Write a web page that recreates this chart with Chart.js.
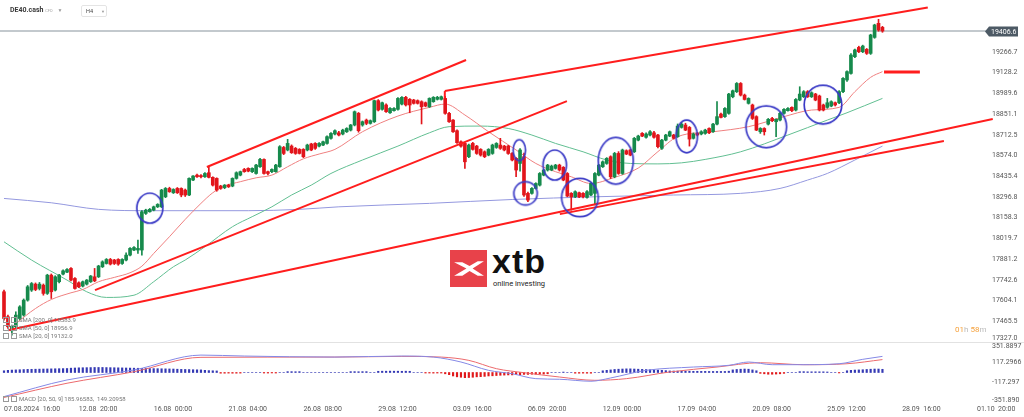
<!DOCTYPE html>
<html>
<head>
<meta charset="utf-8">
<script src="https://cdn.jsdelivr.net/npm/chart.js@4.4.1/dist/chart.umd.min.js"></script>
<style>
  body { margin: 0; background: #fff; font-family: Roboto, 'Liberation Sans', sans-serif; }
  #wrap { position: relative; width: 1024px; height: 417px; overflow: hidden; background: #fff; }
  canvas { position: absolute; left: 0; }
  .abs { position: absolute; white-space: nowrap; }
  .leg { font-size: 6px; color: #777; }
  .ico { display: inline-block; width: 4px; height: 4px; border: 1px solid #999; margin-right: 2px; vertical-align: middle; }
</style>
</head>
<body>
<div id="wrap">
  <!-- watermark -->
  <div class="abs" style="left:450px;top:250px;width:37px;height:37px;background:#e8424a">
    <svg width="37" height="37" viewBox="0 0 36 36">
      <path d="M4 12 L16 18 L4 25 L12 25 L19 20.5 L27 25 L33 25 L22 18 L33 11 L27 11 L19 15.5 L12 12 Z" fill="#fff"/>
    </svg>
  </div>
  <div class="abs" style="left:492px;top:242px;font-size:34px;font-weight:900;color:#111;letter-spacing:1px;font-family:'Liberation Sans',sans-serif">xtb</div>
  <div class="abs" style="left:493px;top:279px;font-size:7.5px;color:#222">online investing</div>

  <canvas id="mainChart" width="1024" height="342" style="top:0"></canvas>
  <canvas id="macdChart" width="1024" height="75" style="top:342px"></canvas>
  <div class="abs" style="left:0;top:342px;width:1024px;height:1px;background:#e2e2e2"></div>

  <!-- header -->
  <div class="abs" style="left:10px;top:6px;font-size:7px;font-weight:bold;color:#3a3a3a">DE40.cash
    <span style="font-size:4px;color:#aaa;font-weight:normal">CFD</span>
    <span style="font-size:5px;color:#999;font-weight:normal;margin-left:3px">▼</span></div>
  <div class="abs" style="left:81px;top:5px;width:24px;height:10px;border:1px solid #e4e4e4;border-radius:2px;font-size:5.5px;color:#444;line-height:10px;box-sizing:content-box">
    <span style="margin-left:4px">H4</span><span style="font-size:4px;color:#999;margin-left:8px">▼</span></div>

  <!-- indicator legends -->
  <div class="abs leg" style="left:3px;top:316px"><span class="ico"></span><span class="ico"></span>SMA [200, 0] 18583.9</div>
  <div class="abs leg" style="left:3px;top:324px"><span class="ico"></span><span class="ico"></span>SMA [50, 0] 18956.9</div>
  <div class="abs leg" style="left:3px;top:332px"><span class="ico"></span><span class="ico"></span>SMA [20, 0] 19132.0</div>
  <div class="abs leg" style="left:3px;top:395px"><span class="ico"></span><span class="ico"></span>MACD [20, 50, 9] 185.96583,&nbsp; 149.20958</div>

  <div class="abs" style="left:955px;top:325px;font-size:8px;color:#bbb">
    <span style="color:#f5a13c">01</span>h <span style="color:#f5a13c">58</span>m</div>
</div>

<script>
// H4 candles, 07.08.2024 16:00 -> 27.09.2024 20:00
const opens = [17663,17496,17402,17429,17484,17507,17607,17674,17714,17685,
  17707,17652,17774,17674,17730,17781,17794,17819,17752,17723,
  17701,17714,17730,17763,17763,17830,17852,17879,17875,17879,
  17852,17875,17908,17942,17942,17942,18187,18198,18209,18231,
  18231,18298,18354,18325,18354,18354,18343,18310,18410,18443,
  18440,18432,18459,18428,18421,18370,18359,18376,18370,18421,
  18443,18481,18488,18466,18454,18499,18548,18466,18466,18466,
  18499,18628,18611,18637,18622,18615,18615,18611,18651,18655,
  18637,18644,18655,18689,18718,18726,18718,18733,18744,18778,
  18856,18778,18811,18789,18800,18941,18883,18912,18860,18874,
  18883,18918,18963,18950,18945,18941,18934,18927,18900,18934,
  18950,18950,18956,18856,18811,18740,18666,18655,18566,18655,
  18637,18615,18599,18577,18588,18628,18644,18637,18637,18588,
  18555,18521,18566,18321,18321,18354,18376,18443,18477,18477,
  18488,18510,18495,18454,18321,18298,18325,18321,18294,18310,
  18321,18443,18499,18521,18566,18432,18588,18454,18606,18611,
  18599,18677,18722,18696,18711,18726,18711,18622,18677,18704,
  18711,18700,18762,18778,18762,18689,18722,18718,18722,18755,
  18733,18784,18851,18834,18856,18967,19001,19056,18978,18923,
  18912,18834,18733,18755,18784,18822,18800,18811,18856,18874,
  18896,18878,18945,18967,19001,18967,18985,18972,18912,18896,
  18905,18927,18927,19001,19079,19123,19235,19297,19268,19284,
  19257,19364,19458,19431];
const highs = [17674,17507,17440,17529,17570,17615,17705,17725,17722,17725,
  17715,17780,17782,17770,17780,17810,17818,17825,17758,17730,
  17735,17745,17772,17819,17840,17870,17885,17886,17880,17884,
  17884,17924,17958,17965,18008,18205,18215,18220,18236,18252,
  18348,18360,18362,18352,18360,18358,18350,18425,18440,18450,
  18447,18460,18503,18432,18425,18375,18380,18382,18425,18465,
  18470,18488,18492,18492,18515,18555,18552,18470,18485,18515,
  18640,18635,18682,18645,18628,18620,18620,18650,18656,18660,
  18660,18670,18705,18728,18745,18735,18750,18760,18782,18872,
  18862,18805,18818,18812,18945,18948,18932,18920,18895,18895,
  18962,18968,18970,18955,18950,18946,18940,18932,18960,18968,
  18970,18972,18970,18862,18815,18745,18672,18660,18650,18662,
  18642,18620,18605,18620,18650,18660,18689,18642,18642,18594,
  18560,18620,18590,18330,18360,18392,18460,18482,18515,18510,
  18515,18516,18500,18460,18326,18338,18330,18326,18340,18392,
  18460,18515,18538,18560,18572,18595,18600,18617,18612,18616,
  18695,18710,18728,18725,18740,18735,18716,18682,18716,18738,
  18716,18785,18795,18790,18768,18725,18728,18740,18750,18760,
  18790,18934,18858,18895,18990,19012,19062,19062,18985,18960,
  18918,18840,18760,18760,18822,18830,18820,18862,18888,18895,
  18900,18955,19034,19008,19008,19000,18990,18978,18918,18956,
  18940,18932,19008,19095,19140,19255,19285,19305,19312,19290,
  19385,19452,19485,19438];
const lows = [17473,17418,17373,17418,17475,17500,17600,17665,17670,17675,
  17640,17645,17618,17668,17722,17775,17790,17735,17680,17690,
  17695,17708,17725,17730,17758,17825,17848,17842,17845,17840,
  17846,17870,17903,17938,17919,17908,18180,18195,18204,18226,
  18226,18292,18328,18320,18320,18298,18300,18305,18405,18428,
  18425,18428,18425,18370,18335,18348,18352,18360,18365,18416,
  18438,18462,18465,18460,18450,18495,18450,18445,18460,18462,
  18495,18580,18605,18588,18582,18584,18560,18605,18606,18615,
  18632,18640,18650,18684,18712,18705,18712,18728,18738,18772,
  18730,18770,18780,18784,18795,18872,18878,18862,18855,18870,
  18878,18912,18905,18860,18918,18918,18785,18900,18895,18930,
  18945,18945,18850,18795,18728,18655,18630,18488,18560,18610,
  18582,18570,18560,18572,18582,18622,18615,18605,18582,18538,
  18432,18470,18300,18265,18315,18350,18370,18438,18470,18472,
  18483,18470,18405,18298,18209,18292,18292,18290,18288,18305,
  18243,18438,18494,18515,18420,18425,18448,18448,18580,18572,
  18594,18672,18700,18690,18705,18690,18625,18615,18672,18700,
  18684,18695,18757,18740,18637,18684,18705,18712,18716,18720,
  18728,18778,18825,18828,18850,18960,18995,18972,18945,18918,
  18815,18740,18722,18711,18778,18800,18700,18805,18850,18870,
  18868,18872,18940,18962,18962,18962,18940,18872,18872,18890,
  18900,18905,18920,18995,19070,19118,19228,19262,19262,19250,
  19250,19358,19405,19398];
const closes = [17484,17429,17433,17507,17562,17607,17696,17718,17678,17714,
  17652,17774,17663,17763,17774,17803,17812,17741,17685,17696,
  17730,17741,17768,17736,17835,17863,17879,17848,17852,17848,
  17879,17908,17953,17959,17953,18198,18209,18214,18231,18247,
  18343,18354,18332,18347,18325,18310,18310,18421,18437,18432,
  18432,18454,18428,18376,18343,18354,18376,18365,18421,18459,
  18466,18466,18470,18488,18510,18548,18454,18454,18481,18510,
  18633,18588,18655,18593,18588,18588,18566,18644,18611,18622,
  18655,18666,18700,18722,18740,18711,18744,18755,18778,18867,
  18740,18800,18789,18807,18941,18878,18927,18867,18889,18889,
  18956,18963,18912,18912,18923,18923,18900,18905,18956,18963,
  18963,18967,18856,18800,18733,18660,18637,18532,18644,18615,
  18588,18577,18566,18615,18644,18655,18622,18611,18588,18544,
  18477,18611,18310,18276,18354,18387,18454,18477,18510,18503,
  18510,18477,18410,18303,18298,18332,18298,18298,18332,18387,
  18454,18510,18532,18555,18432,18588,18454,18611,18584,18577,
  18689,18704,18704,18718,18733,18696,18633,18677,18711,18733,
  18689,18771,18784,18744,18684,18718,18711,18733,18744,18726,
  18784,18834,18829,18889,18985,19007,19056,18978,18949,18956,
  18822,18744,18755,18733,18816,18807,18816,18856,18883,18889,
  18874,18949,18985,19001,18967,18994,18945,18878,18878,18927,
  18934,18912,19001,19090,19135,19246,19280,19268,19306,19257,
  19380,19447,19413,19406.6];
const lastPrice = 19406.6;

// moving averages: [candle index, value]
const sma20 = [[3,17451],[8,17551],[12,17611],[17,17656],[20,17678],[24,17730],[28,17759],[32,17790],
  [35,17834],[38,17919],[42,18031],[46,18147],[50,18254],[53,18325],[56,18370],[60,18399],[64,18425],
  [68,18443],[72,18499],[76,18552],[80,18584],[84,18615],[91,18733],[100,18838],[108,18896],[112,18918],
  [117,18845],[123,18733],[130,18611],[135,18521],[140,18466],[144,18432],[149,18387],[155,18428],
  [161,18490],[166,18600],[171,18700],[180,18733],[189,18767],[198,18834],[205,18878],[212,18896],
  [216,19001],[220,19097],[223,19135]];
const sma50 = [[0,17997],[7,17875],[16,17741],[21,17663],[26,17625],[33,17640],[38,17730],[43,17830],
  [46,17875],[51,17964],[58,18098],[63,18165],[68,18231],[73,18310],[78,18376],[83,18454],[91,18544],
  [100,18637],[108,18726],[113,18767],[121,18771],[128,18755],[134,18711],[140,18655],[147,18599],
  [153,18544],[159,18521],[166,18518],[172,18525],[178,18548],[187,18599],[199,18711],[209,18811],
  [214,18860],[223,18956]];
const sma200 = [[0,18287],[12,18258],[24,18214],[37,18205],[50,18205],[62,18205],[75,18214],[85,18231],
  [108,18254],[129,18280],[150,18298],[170,18310],[187,18321],[197,18354],[204,18410],[209,18454],
  [216,18544],[223,18637]];

// hand drawn trend lines: [[index, price], [index, price]]
const trendLines = [
  [[51.5, 18497], [117.3, 19213]],
  [[23.1, 17674], [142.9, 18938]],
  [[1.0, 17406], [251.0, 18818]],
  [[141.1, 18182], [238.6, 18671]],
  [[111.9, 19005], [234.5, 19564]],
  [[111.9, 18958], [111.9, 19005]],
  [[223.4, 19132], [232.5, 19132]]
];
// hand drawn circles: centre [index, price]
const circleAt = [[37.0,18222],[130.8,18610],[132.4,18321],[139.8,18510],[146.2,18293],
  [155.3,18539],[173.3,18702],[193.5,18766],[207.9,18914]];

// MACD [20, 50, 9]
const macdLine = [[0,-278],[16,-86],[33,29],[50,201],[61,190],[84,178],[101,190],[109,178],[116,121],
  [123,25],[129,-14],[135,-71],[141,-78],[149,-101],[154,-63],[163,25],[175,63],[184,83],[189,121],
  [195,90],[202,90],[212,101],[218,152],[223,186]];
const signalLine = [[0,-288],[16,-124],[33,9],[50,175],[84,178],[101,186],[111,178],[118,140],[125,44],
  [132,-2],[141,-52],[150,-90],[158,-71],[169,6],[181,63],[192,113],[203,90],[214,101],[223,149]];
const histogram = [20,25,28,30,32,34,
  36,37,38,39,40,41,42,43,44,45,46,
  50,52,54,55,56,57,58,58,58,57,56,55,54,53,52,51,50,
  49,48,47,46,45,44,43,42,41,40,38,36,35,34,32,31,30,
  25,22,20,18, -8,-8,-7,-8,-8,-7, 0,0,0,0,0, -6,-6,-5,-6, 0,0, 10,10,9,10,
  0,0,0,0,0,0,0,0,0,0,0,0, 10,10,9,10,10, 0,0, 14,15,15,16,15,15,14,15,14, 0,0,0,
  -6,-6,-7,-6,-6, -15,-25, -40,-50,-55,-60,-58,-55, -50,-48,-45,-40,-38,-35,-32,
  -30,-28,-28,-25,-25,-22,-22,-20,-20,-18,-18,-15, 0,0,0, 5, 0,0, -8,-8,-7,-8,-8, 0,0,
  20,25,30,35,38,40,42,42,40,38,36,34,32,30,28,25,22,
  18,17,16,15,15,15,14,14,13,13,12,12,12,12,12,15,
  30,35,38,40,38,30,20, -10,-15,-20,-20,-18,-15,-10, 0,0,0,
  10,10,8,8,8,8,8,6, 0,0, -5, 0, 20,25,28,30,32,35,38,40,40,37];

// axes
const xLabels = ['07.08.2024  16:00','12.08  20:00','16.08  00:00','21.08  04:00','26.08  08:00',
  '29.08  12:00','03.09  16:00','06.09  20:00','12.09  00:00','17.09  04:00','20.09  08:00',
  '25.09  12:00','28.09  16:00','01.10  20:00'];
const xTickAt = [0,19,38,57,76,95,114,133,152,171,190,209,228,247];
const yTicks = [17327.0,17465.5,17604.1,17742.6,17881.2,18019.7,18158.3,18296.8,18435.4,18574.0,
  18712.5,18851.1,18989.6,19128.2,19266.7];
const macdTicks = [351.8897, 117.2966, -117.2966, -351.8897];
const macdTickLabels = ['351.8897','117.2966','-117.297','-351.890'];

const xMin = -1.015, xMax = 250.3;
const yMin = 17327, yMax = 19614;

const GREEN = '#168a4c', RED = '#e2151b', TREND = '#ff1d1d';
const ringSize = [[13,15],[6.2,10.5],[11.7,11.7],[11.7,15],[18.3,19.2],[17.5,23.3],[10.7,16.3],[20.3,20.8],[18.8,19.3]];

function ring(rx, ry) {
  const c = document.createElement('canvas');
  c.width = Math.ceil(rx * 2 + 4);
  c.height = Math.ceil(ry * 2 + 4);
  const g = c.getContext('2d');
  g.strokeStyle = '#3a3ac6';
  g.lineWidth = 1.7;
  g.beginPath();
  g.ellipse(c.width / 2, c.height / 2, rx, ry, 0, 0, Math.PI * 2);
  g.stroke();
  return c;
}
const rings = ringSize.map(s => ring(s[0], s[1]));

const idx = closes.map((_, i) => i);
const candleColor = idx.map(i => closes[i] >= opens[i] ? GREEN : RED);
const pts = arr => arr.map(p => ({ x: p[0], y: p[1] }));

// drop the padding Chart.js reserves for edge labels
function noPad(s) {
  s.paddingTop = 0; s.paddingBottom = 0; s.paddingLeft = 0; s.paddingRight = 0;
}

const priceTag = {
  id: 'priceTag',
  afterDraw(chart) {
    const ctx = chart.ctx;
    const y = Math.round(chart.scales.y.getPixelForValue(lastPrice)) + 0.5;
    const x0 = chart.chartArea.right - 5;
    ctx.save();
    ctx.fillStyle = '#4d5a65';
    ctx.beginPath();
    ctx.moveTo(x0, y);
    ctx.lineTo(x0 + 4, y - 5);
    ctx.lineTo(x0 + 33, y - 5);
    ctx.lineTo(x0 + 33, y + 5);
    ctx.lineTo(x0 + 4, y + 5);
    ctx.closePath();
    ctx.fill();
    ctx.fillStyle = '#fff';
    ctx.font = '7px Roboto';
    ctx.textBaseline = 'middle';
    ctx.fillText(lastPrice.toFixed(1), x0 + 6, y + 0.5);
    ctx.restore();
  }
};

const trendSets = trendLines.map((l, k) => ({
  type: 'line',
  data: pts(l),
  borderColor: TREND,
  borderWidth: k === 6 ? 3 : 2,
  pointRadius: 0,
  clip: false,
  order: 1
}));

new Chart(document.getElementById('mainChart'), {
  type: 'bar',
  data: {
    datasets: [
      {
        type: 'scatter',
        data: pts(circleAt),
        pointStyle: ctx => rings[ctx.dataIndex],
        pointRadius: 6,
        clip: false,
        order: 0
      },
      ...trendSets,
      {
        data: idx.map(i => ({ x: i, y: [opens[i], closes[i]] })),
        backgroundColor: candleColor,
        barThickness: 3,
        grouped: false,
        order: 3
      },
      {
        data: idx.map(i => ({ x: i, y: [lows[i], highs[i]] })),
        backgroundColor: candleColor,
        barThickness: 1,
        grouped: false,
        order: 4
      },
      { type: 'line', data: pts(sma20), borderColor: '#ef8080', borderWidth: 1, pointRadius: 0, cubicInterpolationMode: 'monotone', order: 5 },
      { type: 'line', data: pts(sma50), borderColor: '#62bf92', borderWidth: 1, pointRadius: 0, cubicInterpolationMode: 'monotone', order: 6 },
      { type: 'line', data: pts(sma200), borderColor: '#9498df', borderWidth: 1, pointRadius: 0, cubicInterpolationMode: 'monotone', order: 7 },
      { type: 'line', data: [{ x: xMin, y: lastPrice }, { x: xMax, y: lastPrice }], borderColor: '#87939c', borderWidth: 1, pointRadius: 0, order: 8 }
    ]
  },
  options: {
    responsive: false,
    animation: false,
    layout: { padding: 0, autoPadding: false },
    plugins: { legend: { display: false }, tooltip: { enabled: false } },
    scales: {
      x: { type: 'linear', min: xMin, max: xMax, offset: false, display: false },
      y: {
        position: 'right',
        min: yMin,
        max: yMax,
        grid: { display: false, drawTicks: false },
        border: { display: false },
        afterFit: s => { s.width = 34; noPad(s); },
        afterBuildTicks: s => {
          s.ticks = yTicks.map(v => ({ value: v }));
          s.ticks[0].value += 4 * (yMax - yMin) / 342; // keep bottom label inside
        },
        ticks: {
          callback: (v, i) => yTicks[i].toFixed(1),
          font: { size: 7, family: 'Roboto' },
          color: '#555',
          padding: 2,
          crossAlign: 'near',
          autoSkip: false
        }
      }
    }
  },
  plugins: [priceTag]
});

new Chart(document.getElementById('macdChart'), {
  type: 'bar',
  data: {
    datasets: [
      { type: 'line', data: pts(macdLine), borderColor: '#8589e6', borderWidth: 1, pointRadius: 0, cubicInterpolationMode: 'monotone', order: 0 },
      { type: 'line', data: pts(signalLine), borderColor: '#ec6a6d', borderWidth: 1, pointRadius: 0, cubicInterpolationMode: 'monotone', order: 1 },
      {
        data: idx.map(i => ({ x: i, y: histogram[i] })),
        backgroundColor: idx.map(i => histogram[i] >= 0 ? '#3439b4' : '#e0191b'),
        barThickness: 1.5,
        grouped: false,
        order: 2
      }
    ]
  },
  options: {
    responsive: false,
    animation: false,
    layout: { padding: 0, autoPadding: false },
    plugins: { legend: { display: false }, tooltip: { enabled: false } },
    scales: {
      x: {
        type: 'linear', min: xMin, max: xMax, offset: false,
        grid: { display: false, drawTicks: false },
        border: { display: false },
        afterBuildTicks: s => { s.ticks = xTickAt.map(v => ({ value: v })); },
        afterFit: s => { s.height = 14; noPad(s); },
        ticks: {
          callback: (v, i) => xLabels[i],
          align: 'start',
          maxRotation: 0,
          autoSkip: false,
          font: { size: 7, family: 'Roboto' },
          color: '#555',
          padding: 2
        }
      },
      y: {
        position: 'right',
        min: -351.8897,
        max: 351.8897,
        grid: { display: false, drawTicks: false },
        border: { display: false },
        afterFit: s => { s.width = 34; noPad(s); },
        afterBuildTicks: s => {
          const step = 703.78 / 61;
          s.ticks = macdTicks.map(v => ({ value: v }));
          s.ticks[0].value -= 4 * step;
          s.ticks[3].value += 3 * step;
        },
        ticks: {
          callback: (v, i) => macdTickLabels[i],
          font: { size: 7, family: 'Roboto' },
          color: '#555',
          padding: 2,
          crossAlign: 'near',
          autoSkip: false
        }
      }
    }
  }
});
</script>
</body>
</html>
